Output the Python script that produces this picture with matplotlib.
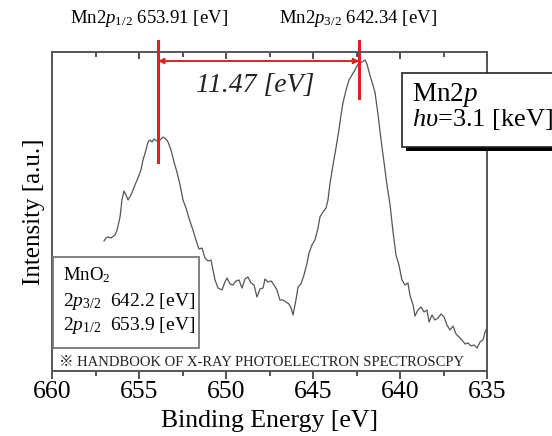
import matplotlib
matplotlib.use("Agg")
import matplotlib.pyplot as plt
from matplotlib.patches import Rectangle

plt.rcParams["font.family"] = ["Liberation Serif", "Noto Sans CJK JP"]
plt.rcParams["mathtext.fontset"] = "custom"
plt.rcParams["mathtext.rm"] = "Liberation Serif"
plt.rcParams["mathtext.it"] = "Liberation Serif:italic"

# spectrum (binding energy eV, intensity a.u.)
energy = [657.01, 656.90, 656.78, 656.61, 656.38, 656.26, 656.09, 655.98, 655.86, 655.75,
          655.63, 655.46, 655.23, 655.06, 654.89, 654.77, 654.60, 654.48, 654.37, 654.25,
          654.14, 653.97, 653.79, 653.62, 653.45, 653.33, 653.16, 652.99, 652.82, 652.64,
          652.47, 652.30, 652.13, 651.90, 651.67, 651.55, 651.38, 651.21, 651.03, 650.86,
          650.75, 650.63, 650.46, 650.23, 650.06, 649.94, 649.77, 649.60, 649.43, 649.25,
          649.08, 648.91, 648.74, 648.56, 648.39, 648.22, 648.05, 647.87, 647.76, 647.59,
          647.41, 647.24, 647.07, 646.90, 646.72, 646.55, 646.38, 646.26, 646.15, 645.98,
          645.86, 645.69, 645.52, 645.34, 645.23, 645.06, 644.89, 644.71, 644.60, 644.43,
          644.25, 644.14, 644.02, 643.85, 643.68, 643.51, 643.39, 643.28, 643.10, 642.93,
          642.76, 642.59, 642.47, 642.36, 642.18, 642.01, 641.90, 641.78, 641.61, 641.44,
          641.26, 641.09, 640.92, 640.75, 640.57, 640.40, 640.23, 640.06, 639.89, 639.71,
          639.54, 639.43, 639.25, 639.14, 638.97, 638.79, 638.62, 638.45, 638.33, 638.16,
          637.99, 637.82, 637.64, 637.47, 637.30, 637.13, 636.95, 636.78, 636.61, 636.44,
          636.26, 636.09, 635.92, 635.75, 635.57, 635.40, 635.23, 635.11, 635.00]
intensity = [134, 137, 138, 137, 140, 145, 158, 175, 184, 180,
             175, 180, 190, 197, 205, 215, 225, 233, 235, 233,
             236, 234, 235, 238, 236, 233, 225, 213, 203, 190,
             175, 167, 157, 145, 132, 126, 127, 117, 114, 115,
             105, 95, 87, 85, 93, 97, 91, 90, 94, 95,
             87, 96, 98, 92, 90, 78, 86, 87, 96, 93,
             94, 90, 85, 75, 75, 73, 71, 67, 60, 75,
             88, 91, 100, 112, 122, 130, 135, 147, 158, 163,
             167, 175, 192, 210, 227, 245, 260, 272, 285, 295,
             300, 305, 309, 312, 313, 315, 311, 303, 293, 283,
             260, 235, 213, 190, 170, 143, 120, 110, 95, 90,
             92, 80, 70, 59, 65, 68, 63, 65, 53, 60,
             55, 57, 61, 58, 50, 45, 49, 41, 38, 35,
             31, 32, 29, 30, 27, 33, 35, 43, 47]

peak_12 = 653.91
peak_32 = 642.34
split = 11.47
xticks = [660, 655, 650, 645, 640, 635]
minor = [657.5, 652.5, 647.5, 642.5, 637.5]

fig = plt.figure(figsize=(5.52, 4.36), dpi=100)
ax = fig.add_axes([52 / 552, 1 - 371 / 436, 435 / 552, 319 / 436])
ax.plot(energy, intensity, color="#555555", lw=0.9)
ax.set_xlim(660, 635)
ax.set_ylim(4, 323)
ax.set_xticks(xticks)
ax.set_xticks(minor, minor=True)
ax.set_yticks([])
ax.tick_params(axis="x", which="both", direction="out", labelsize=18.5,
               colors="#333333", labelcolor="black", width=1.2, pad=1)
ax.tick_params(axis="x", which="major", length=6)
ax.tick_params(axis="x", which="minor", length=3.5)
sec = ax.secondary_xaxis("top")
sec.set_xticks(xticks)
sec.set_xticks(minor, minor=True)
sec.tick_params(which="both", direction="in", labeltop=False, colors="#333333", width=1.2)
sec.tick_params(which="major", length=5)
sec.tick_params(which="minor", length=3.5)
sec.spines["top"].set_visible(False)
for s in ax.spines.values():
    s.set_color("#555555")
    s.set_linewidth(1.4)
ax.set_xlabel("Binding Energy [eV]", fontsize=18.5, labelpad=5)
ax.set_ylabel("Intensity [a.u.]", fontsize=18, labelpad=5)

# red markers for peak positions
red = "#e02020"
ax.plot([peak_12, peak_12], [213, 334], color=red, lw=2.2, clip_on=False)
ax.plot([peak_32, peak_32], [277, 334], color=red, lw=2.2, clip_on=False)
ax.annotate("", xy=(peak_32, 314), xytext=(peak_12, 314),
            arrowprops=dict(arrowstyle="<|-|>", color=red, lw=1.4,
                            mutation_scale=8, shrinkA=0, shrinkB=0),
            annotation_clip=False)
ax.text((peak_12 + peak_32) / 2 + 0.2, 290, "%.2f [eV]" % split, fontsize=20,
        style="italic", ha="center", va="center", color="#222222")
ax.text(peak_12 + 0.5, 357, r"Mn$\mathit{2p}_{\mathit{1/2}}$ 653.91 [eV]", fontsize=13.5,
        ha="center", va="center", clip_on=False)
ax.text(peak_32 + 0.1, 357, r"Mn$\mathit{2p}_{\mathit{3/2}}$ 642.34 [eV]", fontsize=13.5,
        ha="center", va="center", clip_on=False)

# shadowed box at the right
fig.patches.append(Rectangle((406 / 552, 1 - 151 / 436), 160 / 552, 74 / 436,
                             transform=fig.transFigure, facecolor="black", edgecolor="none"))
fig.patches.append(Rectangle((402 / 552, 1 - 147 / 436), 160 / 552, 74 / 436,
                             transform=fig.transFigure, facecolor="white",
                             edgecolor="#222222", lw=1.2))
fig.text(412 / 552, 1 - 95 / 436, r"Mn$\mathit{2p}$", fontsize=19.5, va="center")
fig.text(412 / 552, 1 - 120 / 436, "$\\mathit{h\u03c5}$=3.1 [keV]", fontsize=19, va="center")

# reference values box
ax.add_patch(Rectangle((53 / 552, 1 - 348 / 436), 146 / 552, 91 / 436,
                       transform=fig.transFigure, facecolor="white",
                       edgecolor="#777777", lw=1.3, zorder=3))
fig.text(63 / 552, 1 - 275 / 436, r"MnO$_2$", fontsize=13.5, va="center", zorder=4)
fig.text(63 / 552, 1 - 301 / 436, r"$\mathit{2p}_{\mathit{3/2}}$  642.2 [eV]",
         fontsize=14, va="center", zorder=4)
fig.text(63 / 552, 1 - 326 / 436, r"$\mathit{2p}_{\mathit{1/2}}$  653.9 [eV]",
         fontsize=14, va="center", zorder=4)
fig.text(59 / 552, 1 - 362 / 436, "\u203b HANDBOOK OF X-RAY PHOTOELECTRON SPECTROSCPY",
         fontsize=10.5, va="center", color="#222222")

fig.savefig("out.png", dpi=100)
